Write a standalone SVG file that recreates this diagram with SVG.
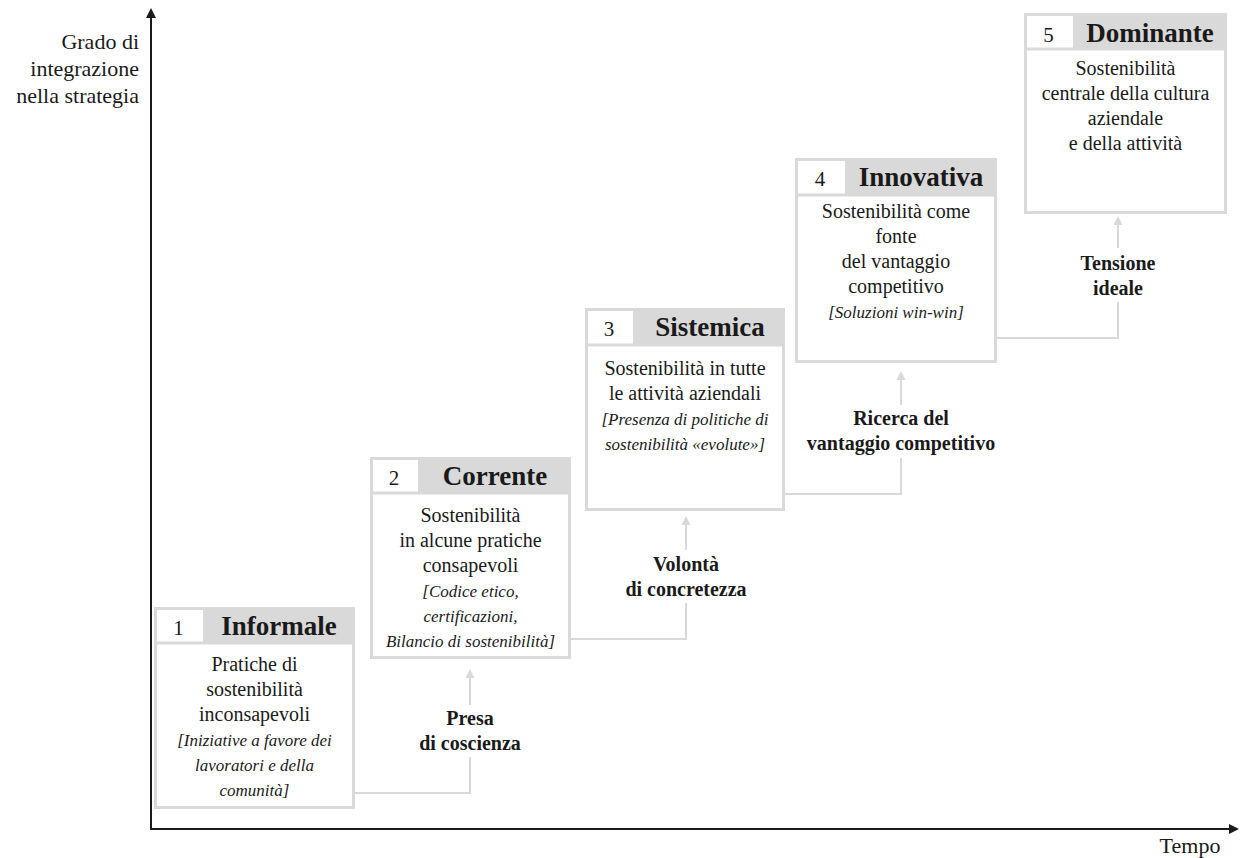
<svg xmlns="http://www.w3.org/2000/svg" width="1242" height="858" viewBox="0 0 1242 858">
<defs>
<style>
.box{fill:#fff;stroke:#d9d9d9;stroke-width:3}
.hdr{fill:#d9d9d9}
.sep{stroke:#d9d9d9;stroke-width:3}
.t{font-family:"Liberation Serif","Times New Roman",serif;fill:#1a1a1a;text-anchor:middle}
.num{font-size:21px}
.title{font-size:27px;font-weight:bold}
.body{font-size:20px}
.it{font-size:17px;font-style:italic}
.lbl{font-size:20px;font-weight:bold}
.ax{font-family:"Liberation Serif","Times New Roman",serif;fill:#1a1a1a;font-size:22px}
.conn{fill:none;stroke:#d9d9d9;stroke-width:2}
.axis{fill:none;stroke:#1a1a1a;stroke-width:2}
</style>
<marker id="ga" viewBox="0 0 10 10" refX="0" refY="5" markerWidth="10" markerHeight="9" markerUnits="userSpaceOnUse" orient="auto">
<path d="M0,0 L10,5 L0,10 z" fill="#d9d9d9"/>
</marker>
<marker id="ba" viewBox="0 0 10 10" refX="0" refY="5" markerWidth="10" markerHeight="10" markerUnits="userSpaceOnUse" orient="auto">
<path d="M0,0 L10,5 L0,10 z" fill="#1a1a1a"/>
</marker>
</defs>
<rect width="1242" height="858" fill="#fff"/>

<g id="axes">
<path class="axis" d="M151,829 V18" marker-end="url(#ba)"/>
<path class="axis" d="M150,829 H1229" marker-end="url(#ba)"/>
<text class="ax" text-anchor="end" x="139" y="49">Grado di</text>
<text class="ax" text-anchor="end" x="139" y="76">integrazione</text>
<text class="ax" text-anchor="end" x="139" y="103">nella strategia</text>
<text class="ax" text-anchor="middle" x="1190" y="853">Tempo</text>
</g>

<g id="connectors">
<path class="conn" d="M355,793 H470 V757"/>
<path class="conn" d="M470,705 V678" marker-end="url(#ga)"/>
<text class="t lbl" x="470" y="725">Presa</text>
<text class="t lbl" x="470" y="750">di coscienza</text>

<path class="conn" d="M571,639 H686 V603"/>
<path class="conn" d="M686,550 V525" marker-end="url(#ga)"/>
<text class="t lbl" x="686" y="571">Volontà</text>
<text class="t lbl" x="686" y="596">di concretezza</text>

<path class="conn" d="M785,494 H901 V458"/>
<path class="conn" d="M901,405 V380" marker-end="url(#ga)"/>
<text class="t lbl" x="901" y="425">Ricerca del</text>
<text class="t lbl" x="901" y="450">vantaggio competitivo</text>

<path class="conn" d="M997,338 H1118 V302"/>
<path class="conn" d="M1118,248 V225" marker-end="url(#ga)"/>
<text class="t lbl" x="1118" y="270">Tensione</text>
<text class="t lbl" x="1118" y="295">ideale</text>
</g>

<g id="node1">
<rect class="box" x="155.5" y="608.5" width="198" height="199"/>
<rect class="hdr" x="203" y="607" width="152" height="36"/>
<line class="sep" x1="154" y1="643" x2="355" y2="643"/>
<text class="t num" x="178.5" y="635">1</text>
<text class="t title" x="279" y="635">Informale</text>
<text class="t body" x="254.5" y="671">Pratiche di</text>
<text class="t body" x="254.5" y="696">sostenibilità</text>
<text class="t body" x="254.5" y="721">inconsapevoli</text>
<text class="t it" x="254.5" y="746">[Iniziative a favore dei</text>
<text class="t it" x="254.5" y="771">lavoratori e della</text>
<text class="t it" x="254.5" y="796">comunità]</text>
</g>

<g id="node2">
<rect class="box" x="371.5" y="458.5" width="198" height="199"/>
<rect class="hdr" x="418" y="457" width="153" height="36"/>
<line class="sep" x1="370" y1="493" x2="571" y2="493"/>
<text class="t num" x="394" y="485">2</text>
<text class="t title" x="495" y="485">Corrente</text>
<text class="t body" x="470.5" y="522">Sostenibilità</text>
<text class="t body" x="470.5" y="547">in alcune pratiche</text>
<text class="t body" x="470.5" y="572">consapevoli</text>
<text class="t it" x="470.5" y="597">[Codice etico,</text>
<text class="t it" x="470.5" y="622">certificazioni,</text>
<text class="t it" x="470.5" y="647">Bilancio di sostenibilità]</text>
</g>

<g id="node3">
<rect class="box" x="586.5" y="309.5" width="197" height="200"/>
<rect class="hdr" x="633" y="308" width="152" height="37"/>
<line class="sep" x1="585" y1="345" x2="785" y2="345"/>
<text class="t num" x="609" y="336">3</text>
<text class="t title" x="710" y="336">Sistemica</text>
<text class="t body" x="685" y="375">Sostenibilità in tutte</text>
<text class="t body" x="685" y="400">le attività aziendali</text>
<text class="t it" x="685" y="425">[Presenza di politiche di</text>
<text class="t it" x="685" y="450">sostenibilità «evolute»]</text>
</g>

<g id="node4">
<rect class="box" x="796.5" y="159.5" width="199" height="202"/>
<rect class="hdr" x="845" y="158" width="152" height="37"/>
<line class="sep" x1="795" y1="195" x2="997" y2="195"/>
<text class="t num" x="820" y="186">4</text>
<text class="t title" x="921" y="186">Innovativa</text>
<text class="t body" x="896" y="218">Sostenibilità come</text>
<text class="t body" x="896" y="243">fonte</text>
<text class="t body" x="896" y="268">del vantaggio</text>
<text class="t body" x="896" y="293">competitivo</text>
<text class="t it" x="896" y="318">[Soluzioni win-win]</text>
</g>

<g id="node5">
<rect class="box" x="1025.5" y="14.5" width="200" height="198"/>
<rect class="hdr" x="1073" y="13" width="154" height="36"/>
<line class="sep" x1="1024" y1="49" x2="1227" y2="49"/>
<text class="t num" x="1048.5" y="42">5</text>
<text class="t title" x="1150" y="42">Dominante</text>
<text class="t body" x="1125.5" y="75">Sostenibilità</text>
<text class="t body" x="1125.5" y="100">centrale della cultura</text>
<text class="t body" x="1125.5" y="125">aziendale</text>
<text class="t body" x="1125.5" y="150">e della attività</text>
</g>
</svg>
